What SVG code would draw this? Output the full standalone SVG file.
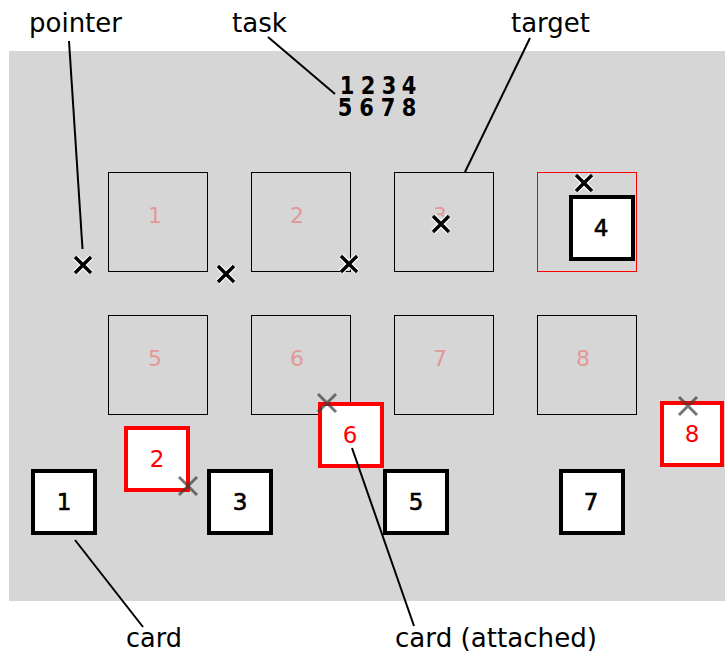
<svg xmlns="http://www.w3.org/2000/svg" width="725" height="655" viewBox="0 0 725 655">
  <style>
    .label { font-family: "DejaVu Sans", "Liberation Sans", sans-serif; font-size: 27px; fill: #000; }
    .task { font-family: "DejaVu Sans", "Liberation Sans", sans-serif; font-size: 21px; font-weight: bold; fill: #000; text-anchor: middle; }
    .slot { fill: none; stroke: #000; stroke-width: 1; }
    .slot-hit { fill: none; stroke: #ff0000; stroke-width: 1; }
    .slot-num { font-family: "DejaVu Sans", "Liberation Sans", sans-serif; font-size: 22px; fill: #e39898; text-anchor: middle; }
    .card { fill: #fff; stroke: #000; stroke-width: 4; }
    .card-red { fill: #fff; stroke: #ff0000; stroke-width: 4; }
    .card-num { font-family: "DejaVu Sans", "Liberation Sans", sans-serif; font-size: 23px; fill: #000; stroke: #000; stroke-width: 0.6; text-anchor: middle; }
    .card-num-red { font-family: "DejaVu Sans", "Liberation Sans", sans-serif; font-size: 23px; fill: #ff0000; text-anchor: middle; }
    .leader { stroke: #000; stroke-width: 2; fill: none; }
    .x-halo { stroke: #fff; stroke-width: 6; fill: none; }
    .x-mark { stroke: #000; stroke-width: 3.5; fill: none; }
    .x-ghost { stroke: #3a3a3a; stroke-width: 3; fill: none; opacity: 0.7; }
  </style>
  <defs>
    <path id="xshape" d="M-8,-8 L8,8 M-8,8 L8,-8"/>
    <g id="pointer">
      <use href="#xshape" class="x-halo"/>
      <use href="#xshape" class="x-mark"/>
    </g>
    <path id="ghost" class="x-ghost" d="M-9,-9 L9,9 M-9,9 L9,-9"/>
  </defs>

  <!-- table surface -->
  <rect x="9" y="51" width="716" height="550" fill="#d6d6d6"/>

  <!-- task: slot order in two rows, stretched vertically -->
  <g id="task">
    <text class="task" transform="translate(0,94) scale(1,1.15)"><tspan x="347 368 389 409" y="0">1234</tspan><tspan x="345 366.5 388 409" y="19.1">5678</tspan></text>
  </g>

  <!-- target slots -->
  <g id="slot1"><rect class="slot" x="108.5" y="172.5" width="99" height="99"/><text class="slot-num" x="155" y="223">1</text></g>
  <g id="slot2"><rect class="slot" x="251.5" y="172.5" width="99" height="99"/><text class="slot-num" x="297" y="223">2</text></g>
  <g id="slot3"><rect class="slot" x="394.5" y="172.5" width="99" height="99"/><text class="slot-num" x="440" y="223">3</text></g>
  <g id="slot4"><rect class="slot-hit" x="537.5" y="172.5" width="99" height="99"/></g>
  <g id="slot5"><rect class="slot" x="108.5" y="315.5" width="99" height="99"/><text class="slot-num" x="155" y="366">5</text></g>
  <g id="slot6"><rect class="slot" x="251.5" y="315.5" width="99" height="99"/><text class="slot-num" x="297" y="366">6</text></g>
  <g id="slot7"><rect class="slot" x="394.5" y="315.5" width="99" height="99"/><text class="slot-num" x="440" y="366">7</text></g>
  <g id="slot8"><rect class="slot" x="537.5" y="315.5" width="99" height="99"/><text class="slot-num" x="583" y="366">8</text></g>

  <!-- cards -->
  <g id="card1"><rect class="card" x="33" y="471" width="62" height="62"/><text class="card-num" x="64" y="510">1</text></g>
  <g id="card2"><rect class="card-red" x="126" y="428" width="62" height="62"/><text class="card-num-red" x="157" y="467">2</text></g>
  <g id="card3"><rect class="card" x="209" y="471" width="62" height="62"/><text class="card-num" x="240" y="510">3</text></g>
  <g id="card4"><rect class="card" x="571" y="197" width="62" height="62"/><text class="card-num" x="601" y="236">4</text></g>
  <g id="card5"><rect class="card" x="385" y="471" width="62" height="62"/><text class="card-num" x="416" y="510">5</text></g>
  <g id="card6"><rect class="card-red" x="320" y="404" width="62" height="62"/><text class="card-num-red" x="350" y="443">6</text></g>
  <g id="card7"><rect class="card" x="561" y="471" width="62" height="62"/><text class="card-num" x="591" y="510">7</text></g>
  <g id="card8"><rect class="card-red" x="662" y="403" width="60" height="62"/><text class="card-num-red" x="692" y="442">8</text></g>

  <!-- pointers -->
  <g id="pointers">
    <use href="#pointer" x="83" y="265"/>
    <use href="#pointer" x="226" y="274"/>
    <use href="#pointer" x="349" y="264"/>
    <use href="#pointer" x="441" y="224"/>
    <use href="#pointer" x="584" y="183"/>
    <use href="#ghost" x="188" y="486"/>
    <use href="#ghost" x="327" y="403"/>
    <use href="#ghost" x="688" y="406"/>
  </g>

  <!-- leader lines -->
  <g id="connectors">
    <line class="leader" x1="69" y1="41" x2="82.5" y2="249"/>
    <line class="leader" x1="268" y1="37" x2="335" y2="94"/>
    <line class="leader" x1="530" y1="38" x2="465" y2="172"/>
    <line class="leader" x1="75" y1="540" x2="143" y2="627"/>
    <line class="leader" x1="352" y1="448" x2="414" y2="626"/>
  </g>

  <!-- labels -->
  <g id="labels">
    <text class="label" x="29" y="32" textLength="93" lengthAdjust="spacingAndGlyphs">pointer</text>
    <text class="label" x="232" y="32" textLength="55" lengthAdjust="spacingAndGlyphs">task</text>
    <text class="label" x="511" y="32" textLength="79" lengthAdjust="spacingAndGlyphs">target</text>
    <text class="label" x="126" y="647" textLength="56" lengthAdjust="spacingAndGlyphs">card</text>
    <text class="label" x="395" y="647" textLength="202" lengthAdjust="spacingAndGlyphs">card (attached)</text>
  </g>
</svg>
